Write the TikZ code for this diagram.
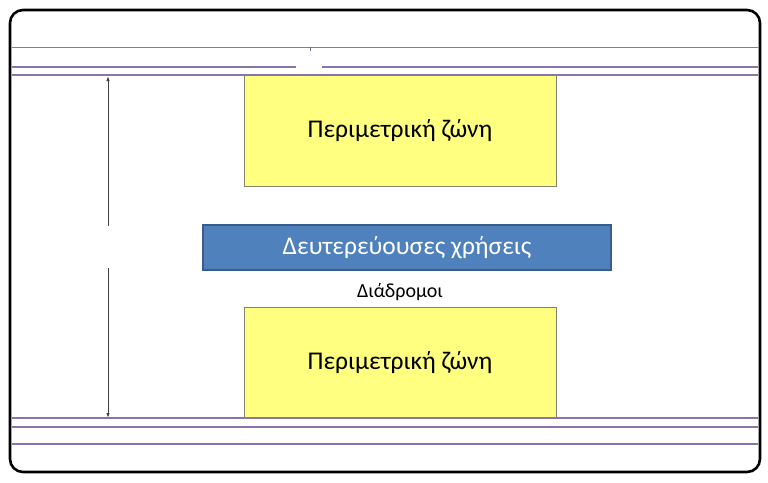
\documentclass[tikz,border=0pt]{standalone}
\usepackage{fontspec}
\setmainfont{Carlito}
\usetikzlibrary{arrows.meta}
\definecolor{lanecol}{RGB}{139,116,172}
\definecolor{zonefill}{RGB}{255,255,128}
\definecolor{zoneedge}{RGB}{130,130,110}
\definecolor{usefill}{RGB}{79,129,189}
\definecolor{useedge}{RGB}{56,93,138}
\tikzset{
  plan/.style={x=1pt, y=-1pt},
  frame/.style={black, line width=2.6pt, rounded corners=13pt},
  lane/.style={lanecol, line width=1.3pt},
  zone/.style={draw=zoneedge, fill=zonefill, line width=1pt, inner sep=0pt,
    minimum width=312pt, minimum height=111pt, font=\fontsize{25.5}{30}\selectfont},
  usebox/.style={draw=useedge, fill=usefill, line width=2.4pt, inner sep=0pt, text=white,
    minimum width=408pt, minimum height=45pt, font=\fontsize{25.5}{30}\selectfont},
  label/.style={font=\fontsize{20}{24}\selectfont},
  dim/.style={black!75, line width=1pt, -{Latex[open, length=5pt, width=3.5pt]}},
}
\begin{document}
\begin{tikzpicture}[plan]
  \useasboundingbox (0,0) rectangle (768,482);

  % --- zones ---
  \node[zone] (ztop) at (400,130.5) {Περιμετρική ζώνη};
  \node[zone] (zbot) at (400,362.5) {Περιμετρική ζώνη};
  \node[usebox] (uses) at (407,247.5) {Δευτερεύουσες χρήσεις};
  \node[label] (corr) at (400,292) {Διάδρομοι};

  % --- lanes (purple lines) ---
  \foreach \y in {47.5,67,75,418,427,444}
    \draw[lane] (12,\y) -- (758,\y);
  \fill[white] (296,63) rectangle (322,69.5);
  \draw[lanecol!80!black, line width=0.8pt] (310,47) -- (310,50.5);

  % --- dimension line ---
  \coordinate (dtop) at (108,76);
  \coordinate (dbot) at (108,418);
  \coordinate (gtop) at (108,226);
  \coordinate (gbot) at (108,268);
  \draw[dim] (gtop) -- (dtop);
  \draw[dim] (gbot) -- (dbot);

  % --- frame ---
  \draw[frame] (10,10) rectangle (760,472);
\end{tikzpicture}
\end{document}
